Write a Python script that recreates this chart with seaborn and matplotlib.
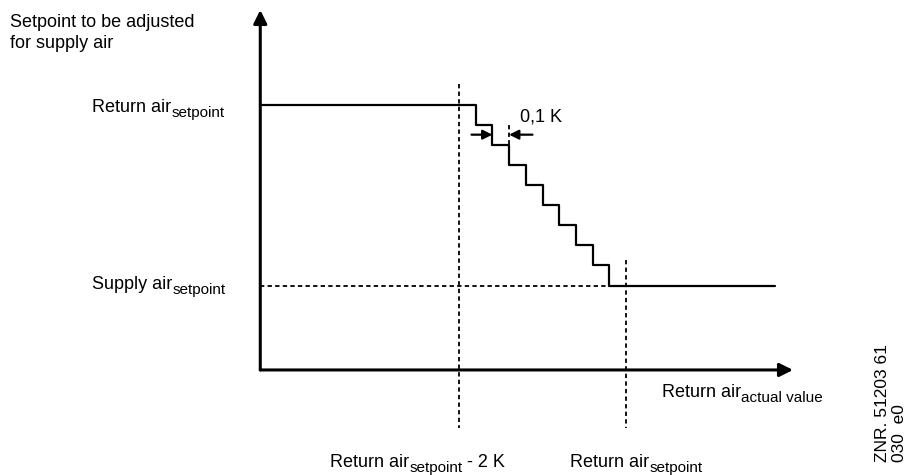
import matplotlib
matplotlib.use("Agg")
import matplotlib.pyplot as plt
import seaborn as sns

sns.set_theme(style="white")
plt.rcParams["font.family"] = ["Liberation Sans", "DejaVu Sans"]
plt.rcParams["text.color"] = "black"

# ---- data (x: K relative to return-air setpoint, y: setpoint level index) ----
step_x = [-4.38, -1.8, -1.6, -1.4, -1.2, -1.0, -0.8, -0.6, -0.4, -0.2, 1.78]
step_y = [9, 8, 7, 6, 5, 4, 3, 2, 1, 0, 0]
return_level = 9
supply_level = 0
x_lower = -2.0      # return air setpoint - 2 K
x_upper = 0.0       # return air setpoint
axis_origin = (-4.38, -4.2)
axis_tip_x = 2.0
axis_tip_y = 13.7
step_width_marks = [-1.6, -1.4]   # the 0,1 K step shown with arrows

W, H = 916, 475
fig = plt.figure(figsize=(W / 100, H / 100), dpi=100)
ax = fig.add_axes([0, 0, 1, 1])
ax.set_xlim(-626 / 83.5, 290 / 83.5)
ax.set_ylim((285.5 - 475) / 20.11, 285.5 / 20.11)
ax.axis("off")

# stepped characteristic
sns.lineplot(x=step_x, y=step_y, drawstyle="steps-post", color="black",
             lw=1.6, estimator=None, sort=False, ax=ax, legend=False)

dash = dict(color="black", lw=1.3, dashes=(2.4, 1.8))
# horizontal dashed at supply setpoint
ax.plot([axis_origin[0], step_x[-2]], [supply_level, supply_level], **dash)
# vertical dashed lines
ax.plot([x_lower, x_lower], [10.0, -7.1], **dash)
ax.plot([x_upper, x_upper], [1.25, -7.1], **dash)
# small dashed extension at step edge
ax.plot([step_width_marks[1], step_width_marks[1]], [8.0, 7.0], **dash)

# axes arrows
arrow = dict(arrowstyle="-|>", color="black", lw=2.2, mutation_scale=20,
             shrinkA=0, shrinkB=0)
ax.annotate("", xy=(axis_tip_x, axis_origin[1]), xytext=axis_origin, arrowprops=arrow)
ax.annotate("", xy=(axis_origin[0], axis_tip_y), xytext=axis_origin, arrowprops=arrow)

# 0,1 K arrows
small = dict(arrowstyle="-|>", color="black", lw=1.6, mutation_scale=14,
             shrinkA=0, shrinkB=0)
ax.annotate("", xy=(step_width_marks[0], 7.5), xytext=(step_width_marks[0] - 0.25, 7.5),
            arrowprops=small)
ax.annotate("", xy=(step_width_marks[1], 7.5), xytext=(step_width_marks[1] + 0.28, 7.5),
            arrowprops=small)

fig.canvas.draw()
renderer = fig.canvas.get_renderer()
FS_MAIN = 13
FS_SUB = 11


def fx(px):
    return px / W


def fy(py):
    return 1 - py / H


def sublabel(x, y, main, sub, tail=""):
    t1 = fig.text(fx(x), fy(y), main, fontsize=FS_MAIN, va="baseline", ha="left")
    bb = t1.get_window_extent(renderer)
    t2 = fig.text(bb.x1 / W, fy(y + 5), sub, fontsize=FS_SUB, va="baseline", ha="left")
    if tail:
        bb2 = t2.get_window_extent(renderer)
        fig.text(bb2.x1 / W, fy(y), tail, fontsize=FS_MAIN, va="baseline", ha="left")


fig.text(fx(10), fy(27), "Setpoint to be adjusted", fontsize=FS_MAIN, va="baseline")
fig.text(fx(10), fy(48), "for supply air", fontsize=FS_MAIN, va="baseline")
sublabel(92, 112, "Return air", "setpoint")
sublabel(92, 289, "Supply air", "setpoint")
sublabel(662, 397, "Return air", "actual value")
sublabel(330, 467, "Return air", "setpoint", " - 2 K")
sublabel(570, 467, "Return air", "setpoint")
fig.text(fx(520), fy(122), "0,1 K", fontsize=FS_MAIN, va="baseline")
fig.text(fx(891), fy(462), "ZNR. 51203 61\n030  e0", fontsize=12.5, rotation=90,
         ha="center", va="bottom", multialignment="left", linespacing=1.2)

fig.savefig("out.png", dpi=100)
